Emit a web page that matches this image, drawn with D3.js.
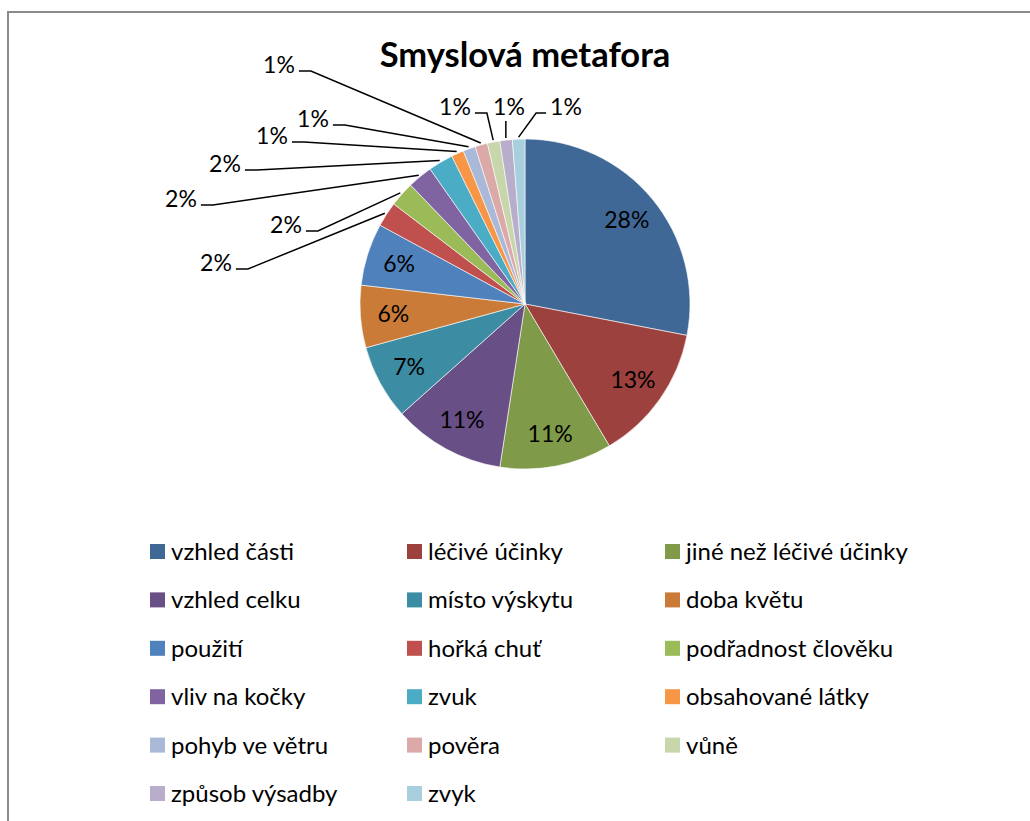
<!DOCTYPE html>
<html>
<head>
<meta charset="utf-8">
<script src="https://cdn.jsdelivr.net/npm/d3@7"></script>
<style>
  body { margin: 0; background: #fff; }
  text { font-family: Lato, "Open Sans", sans-serif; fill: #000; }
</style>
</head>
<body>
<script>
// data
const categories = ['vzhled části', 'léčivé účinky', 'jiné než léčivé účinky', 'vzhled celku',
  'místo výskytu', 'doba květu', 'použití', 'hořká chuť', 'podřadnost člověku', 'vliv na kočky',
  'zvuk', 'obsahované látky', 'pohyb ve větru', 'pověra', 'vůně', 'způsob výsadby', 'zvyk']
const counts = [23, 11, 9, 9, 6, 5, 5, 2, 2, 2, 2, 1, 1, 1, 1, 1, 1]
const colors = ['#3f6897', '#9c413e', '#7f9a48', '#684f86', '#3c8ca3', '#cb7b38',
  '#4f81bd', '#c0504d', '#9bbb59', '#8064a2', '#4bacc6', '#f79646',
  '#aab9d8', '#daa9a8', '#c7d6ab', '#b8adcb', '#a8cfde']
const title = 'Smyslová metafora'

// outside label spots for the small slices (layout, not data)
const outsideLabels = {
  7: [216, 263], 8: [286, 225], 9: [181, 199], 10: [225, 164], 11: [272, 136],
  12: [313, 119], 13: [279, 65], 14: [455, 107], 15: [509, 107], 16: [566, 107]
}

const W = 1030, H = 821
const cx = 525, cy = 304, r = 165

const svg = d3.select('body').append('svg')
  .attr('width', W).attr('height', H)
  .attr('xmlns', 'http://www.w3.org/2000/svg')

svg.append('rect')
  .attr('x', 8).attr('y', 12)
  .attr('width', 1040).attr('height', 840)
  .attr('fill', '#fff')
  .attr('stroke', '#8a8a8a')
  .attr('stroke-width', 2)

svg.append('text')
  .attr('x', cx).attr('y', 67)
  .attr('text-anchor', 'middle')
  .style('font-size', '34.5px')
  .style('font-weight', 'bold')
  .text(title)

const total = d3.sum(counts)
const pie = d3.pie().sort(null).value(d => d)
const arcs = pie(counts)
const arc = d3.arc().innerRadius(0).outerRadius(r)
const labelArc = d3.arc().innerRadius(r * 0.8).outerRadius(r * 0.8)
const edgeArc = d3.arc().innerRadius(r + 2).outerRadius(r + 2)

const g = svg.append('g').attr('transform', `translate(${cx},${cy})`)

g.selectAll('path')
  .data(arcs)
  .enter()
  .append('path')
  .attr('d', arc)
  .attr('fill', (d, i) => colors[i])
  .attr('stroke', '#fff')
  .attr('stroke-width', 0.6)

const pct = v => Math.round(v / total * 100) + '%'

// labels inside the big slices
g.selectAll('text.inside')
  .data(arcs.filter((d, i) => !(i in outsideLabels)))
  .enter()
  .append('text')
  .attr('class', 'inside')
  .attr('transform', d => `translate(${labelArc.centroid(d)})`)
  .attr('text-anchor', 'middle')
  .attr('dy', '0.35em')
  .style('font-size', '23px')
  .text(d => pct(d.value))

// leader lines + labels for the small slices
arcs.forEach((d, i) => {
  if (!(i in outsideLabels)) return
  const [lx, ly] = outsideLabels[i]
  const [px, py] = edgeArc.centroid(d).map((v, k) => v + (k ? cy : cx))
  const t = svg.append('text')
    .attr('x', lx).attr('y', ly)
    .attr('text-anchor', 'middle')
    .attr('dy', '0.35em')
    .style('font-size', '23px')
    .text(pct(d.value))
  const hw = t.node().getComputedTextLength() / 2
  let pts
  if (Math.abs(lx - px) < 8) {
    pts = [[px, ly + 14], [px, py]]
  } else if (lx < px) {
    pts = [[lx + hw + 4, ly + 6], [lx + hw + 16, ly + 6], [px, py]]
  } else {
    pts = [[lx - hw - 4, ly + 6], [lx - hw - 14, ly + 6], [px, py]]
  }
  svg.append('path')
    .attr('d', d3.line()(pts))
    .attr('fill', 'none')
    .attr('stroke', '#000')
    .attr('stroke-width', 1.5)
})

// legend, 3 columns
const colX = [150, 407, 665]
const rowY = d3.range(6).map(k => 552 + k * 48.4)
const leg = svg.append('g')
  .selectAll('g')
  .data(categories)
  .enter()
  .append('g')
  .attr('transform', (d, i) => `translate(${colX[i % 3]},${rowY[Math.floor(i / 3)]})`)

leg.append('rect')
  .attr('x', 0).attr('y', -8)
  .attr('width', 15).attr('height', 15)
  .attr('fill', (d, i) => colors[i])

leg.append('text')
  .attr('x', 21).attr('y', 0)
  .attr('dy', '0.33em')
  .style('font-size', '24px')
  .text(d => d)
</script>
</body>
</html>
